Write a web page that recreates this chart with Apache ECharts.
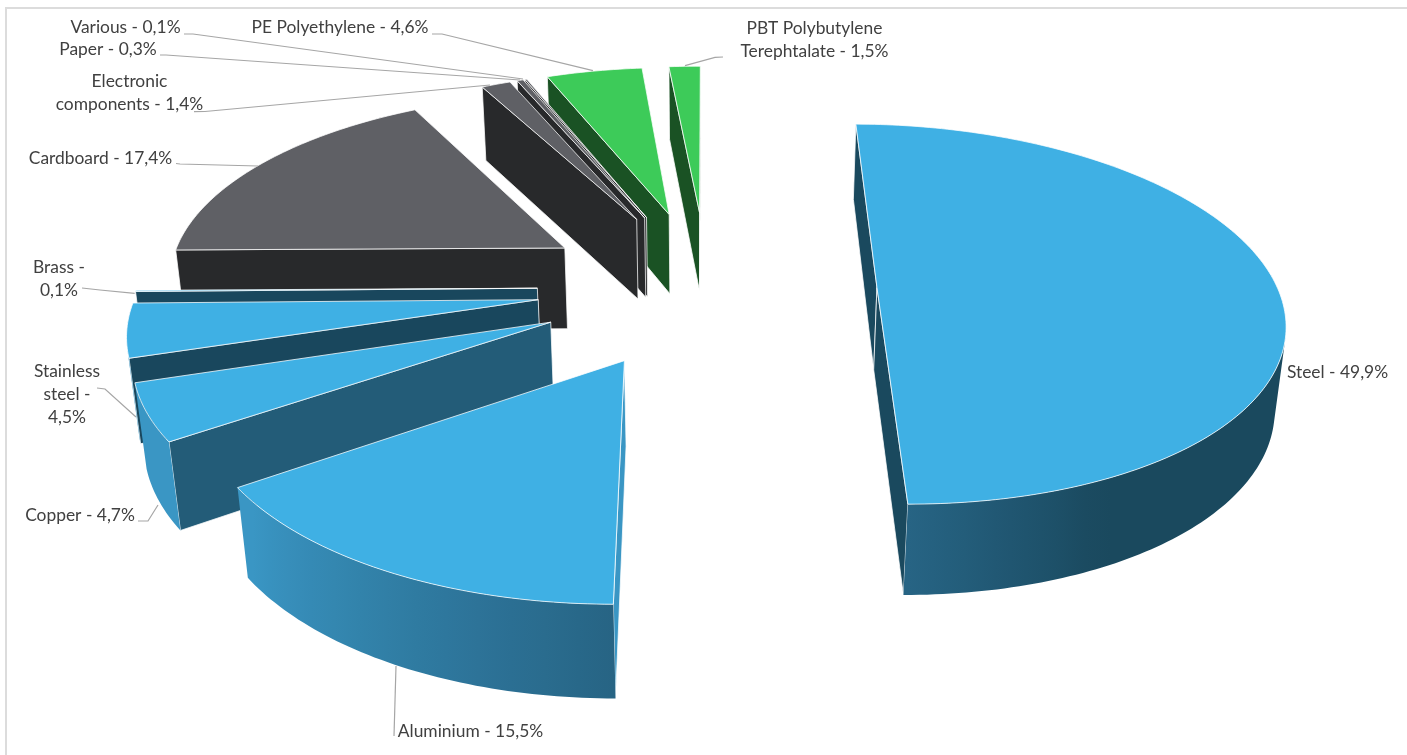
<!DOCTYPE html>
<html><head><meta charset="utf-8">
<style>html,body{margin:0;padding:0;background:#fff}#c{width:1407px;height:755px}</style>
<script src="https://cdn.jsdelivr.net/npm/echarts@6/dist/echarts.min.js"></script>
</head><body><div id="c"></div>
<script>
// ---- data ----
const materials = ['Steel','Aluminium','Copper','Stainless steel','Brass','Cardboard','Electronic components','Paper','Various','PE Polyethylene','PBT Polybutylene Terephtalate'];
const shares = [49.9,15.5,4.7,4.5,0.1,17.4,1.4,0.3,0.1,4.6,1.5];
const families = ['blue','blue','blue','blue','blue','grey','grey','grey','grey','green','green'];

// ---- styling and layout ----
const topColor = {blue:'#3fb0e4',grey:'#5f6065',green:'#3dcb59'};
const faceColor = ['#1a495e','#3a96c4','#235c78','#19475d','#19475d','#28292b','#28292b','#28292b','#28292b','#1a5224','#1a5224'];
// camera of the 3-D pie
const cam = {u0:707.18,v0:287.06,S:400.2,q:0.46518,k:0.14057,ex:0.42409,a0:0.00754,sk:0.00799,ph:0.21,n:0.0195};
const labelFont = 'Lato';
const labels = [
 {t:'Steel - 49,9%',x:1337.5,y:372},
 {t:'Aluminium - 15,5%',x:470.5,y:731,l:[[394,736],[396,666]]},
 {t:'Copper - 4,7%',x:80,y:515,l:[[138,521],[148,521],[158,505]]},
 {t:'Stainless\nsteel -\n4,5%',x:67,y:394,l:[[97,388],[105,389],[136,417]]},
 {t:'Brass -\n0,1%',x:59,y:278.5,l:[[82,288],[100,290],[134.7,293.3]]},
 {t:'Cardboard - 17,4%',x:100.5,y:158,l:[[176,163.5],[180,164],[258,166]]},
 {t:'Electronic\ncomponents - 1,4%',x:129.5,y:92.5,l:[[194,111.7],[205,111.5],[490,85]]},
 {t:'Paper - 0,3%',x:108,y:49,l:[[160,55],[166,55],[520,80]]},
 {t:'Various - 0,1%',x:125.5,y:27,l:[[184,34],[193,34],[523,79]]},
 {t:'PE Polyethylene - 4,6%',x:340,y:27,l:[[432,34],[442,34],[593,70.7]]},
 {t:'PBT Polybutylene\nTerephtalate - 1,5%',x:814.5,y:39.5,l:[[723,57],[715,57.3],[685,65.7]]}
];

// ---- geometry from the values ----
const total = shares.reduce((a,b)=>a+b,0);
function project(X,Y,bottom){
  const w = 1 - cam.k*Y + (bottom?cam.n:0);
  return [cam.u0 + cam.S*(X+cam.sk*Y)/w, cam.v0 + cam.S*(cam.q*Y+(bottom?cam.ph:0))/w];
}
function area(p){let s=0;for(let i=0;i<p.length;i++){const a=p[i],b=p[(i+1)%p.length];s+=a[0]*b[1]-b[0]*a[1]}return s}
function hex(c){return [1,3,5].map(i=>parseInt(c.substr(i,2),16))}
function mix(a,b,t){const A=hex(a),B=hex(b);return 'rgb('+A.map((v,i)=>Math.round(v+(B[i]-v)*t)).join(',')+')'}
const wallStops = [[0,'#1a495e'],[155,'#1a495e'],[176,'#25607f'],[232,'#3a96c4'],[360,'#3a96c4']];
function wallColor(fam,deg){
  if(fam==='grey') return '#28292b';
  if(fam==='green') return '#1a5224';
  for(let i=1;i<wallStops.length;i++) if(deg<=wallStops[i][0]){
    const a=wallStops[i-1],b=wallStops[i];return mix(a[1],b[1],(deg-a[0])/(b[0]-a[0]));
  }
  return wallStops[0][1];
}
const edge = 'rgba(255,255,255,0.75)';
function sliceItem(params,api){
  const i = api.value(0), before = shares.slice(0,i).reduce((a,b)=>a+b,0);
  const start = cam.a0 + before/total*2*Math.PI, span = api.value(1)/total*2*Math.PI, end = start+span, mid = start+span/2;
  const ax = cam.ex*Math.sin(mid), ay = -cam.ex*Math.cos(mid);
  const rim = (a,b)=>project(ax+Math.sin(a),ay-Math.cos(a),b);
  const apexT = project(ax,ay,false), apexB = project(ax,ay,true);
  const base = (11-i)*1000, kids = [];
  const steps = Math.max(2,Math.ceil(span/(Math.PI/180)));
  const topPts = [apexT];
  for(let s=0;s<=steps;s++) topPts.push(rim(start+span*s/steps,false));
  const add=(pts,fill,stroke,lw,z)=>kids.push({type:'polygon',shape:{points:pts},style:{fill,stroke,lineWidth:lw,lineJoin:'round'},z2:base+z,silent:true});
  // radial faces
  const sf=[apexT,rim(start,false),rim(start,true),apexB], ef=[apexT,rim(end,false),rim(end,true),apexB];
  if(area(sf)<0) add(sf,faceColor[i],edge,1,1);
  if(area(ef)>0) add(ef,faceColor[i],edge,1,2);
  // outer wall: the visible run of the rim, shaded along its width
  const up=[],down=[],tints=[];
  for(let s=0;s<steps;s++){
    const a=start+span*s/steps,b=start+span*(s+1)/steps;
    const q=[rim(a,false),rim(b,false),rim(b,true),rim(a,true)];
    if(area(q)<0){
      if(!up.length){up.push(q[0]);down.push(q[3]);tints.push([q[0][0],a])}
      up.push(q[1]);down.push(q[2]);tints.push([q[1][0],b]);
    }
  }
  if(up.length>1){
    const xs=tints.map(t=>t[0]),x0=Math.min(...xs),x1=Math.max(...xs),w=Math.max(x1-x0,1);
    const stops=tints.filter((t,n)=>n%4===0||n===tints.length-1)
      .map(t=>({offset:(t[0]-x0)/w,color:wallColor(families[i],t[1]*180/Math.PI)}))
      .sort((p,r)=>p.offset-r.offset);
    add(up.concat(down.reverse()),{type:'linear',x:x0,y:0,x2:x1,y2:0,global:true,colorStops:stops},null,0,3);
  }
  // top
  add(topPts,topColor[families[i]],edge,1,5);
  return {type:'group',children:kids};
}
function labelItem(params,api){
  const d=labels[api.value(0)], kids=[];
  if(d.l) kids.push({type:'polyline',shape:{points:d.l},style:{fill:null,stroke:'#a6a6a6',lineWidth:1.2},z2:20000,silent:true});
  kids.push({type:'text',x:d.x,y:d.y,style:{text:d.t,fill:'#404040',font:'17.4px '+labelFont,lineHeight:23,align:'center',verticalAlign:'middle'},z2:20001,silent:true});
  return {type:'group',children:kids};
}
const chart = echarts.init(document.getElementById('c'),null,{renderer:'canvas',width:1407,height:755});
chart.setOption({
  animation:false,
  backgroundColor:'#fff',
  xAxis:{show:false},yAxis:{show:false},
  graphic:[{type:'polyline',shape:{points:[[6,760],[6,8],[1412,8]]},style:{fill:null,stroke:'#dcdcdc',lineWidth:2},silent:true}],
  series:[
   {type:'custom',coordinateSystem:'none',renderItem:sliceItem,silent:true,
    data:shares.map((v,i)=>[i,v,materials[i]]).reverse()},
   {type:'custom',coordinateSystem:'none',renderItem:labelItem,silent:true,
    data:labels.map((d,i)=>[i])}
  ]
});
</script></body></html>
